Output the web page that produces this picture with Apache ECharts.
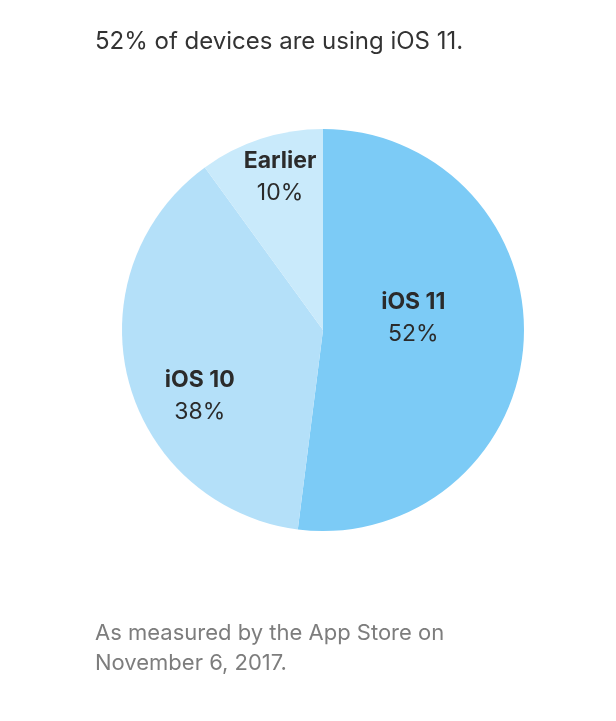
<!DOCTYPE html>
<html>
<head>
<meta charset="utf-8">
<script src="https://cdn.jsdelivr.net/npm/echarts@6/dist/echarts.min.js"></script>
<style>
  html, body { margin: 0; padding: 0; background: #fff; }
  #chart { width: 616px; height: 721px; }
</style>
</head>
<body>
<div id="chart"></div>
<script>
// iOS version share
var versions = ['iOS 11', 'iOS 10', 'Earlier'];
var shares = [52, 38, 10];
var sliceColors = ['#7ccbf6', '#b4e0f9', '#c9eafb'];
// nudges for the labels inside the slices
var labelOffsets = [[-13, -18], [-23, 40], [-11, -54]];

var chart = echarts.init(document.getElementById('chart'));

var pieData = versions.map(function (name, i) {
    return {
        name: name,
        value: shares[i],
        itemStyle: { color: sliceColors[i] },
        label: { offset: labelOffsets[i] }
    };
});

var font = 'Inter, Roboto, sans-serif';

var option = {
    backgroundColor: '#fff',
    textStyle: { fontFamily: font },
    title: [{
        text: '52% of devices are using iOS 11.',
        left: 90,
        top: 25,
        textStyle: { fontSize: 24, fontWeight: 'normal', color: '#333', fontFamily: font }
    }, {
        text: 'As measured by the App Store on\nNovember 6, 2017.',
        left: 90,
        top: 613,
        textStyle: { fontSize: 22, fontWeight: 'normal', color: '#7d7d7d', lineHeight: 30, fontFamily: font }
    }],
    series: [{
        type: 'pie',
        center: [323, 330],
        radius: [0, 201],
        startAngle: 90,
        clockwise: true,
        silent: true,
        itemStyle: { borderWidth: 0 },
        label: {
            position: 'inside',
            formatter: '{n|{b}}\n{p|{d}%}',
            rich: {
                n: { fontSize: 23, fontWeight: 'bold', color: '#2b2b2b', lineHeight: 32, fontFamily: font },
                p: { fontSize: 23, color: '#2b2b2b', lineHeight: 32, fontFamily: font }
            }
        },
        labelLine: { show: false },
        data: pieData
    }]
};

chart.setOption(option);
</script>
</body>
</html>
